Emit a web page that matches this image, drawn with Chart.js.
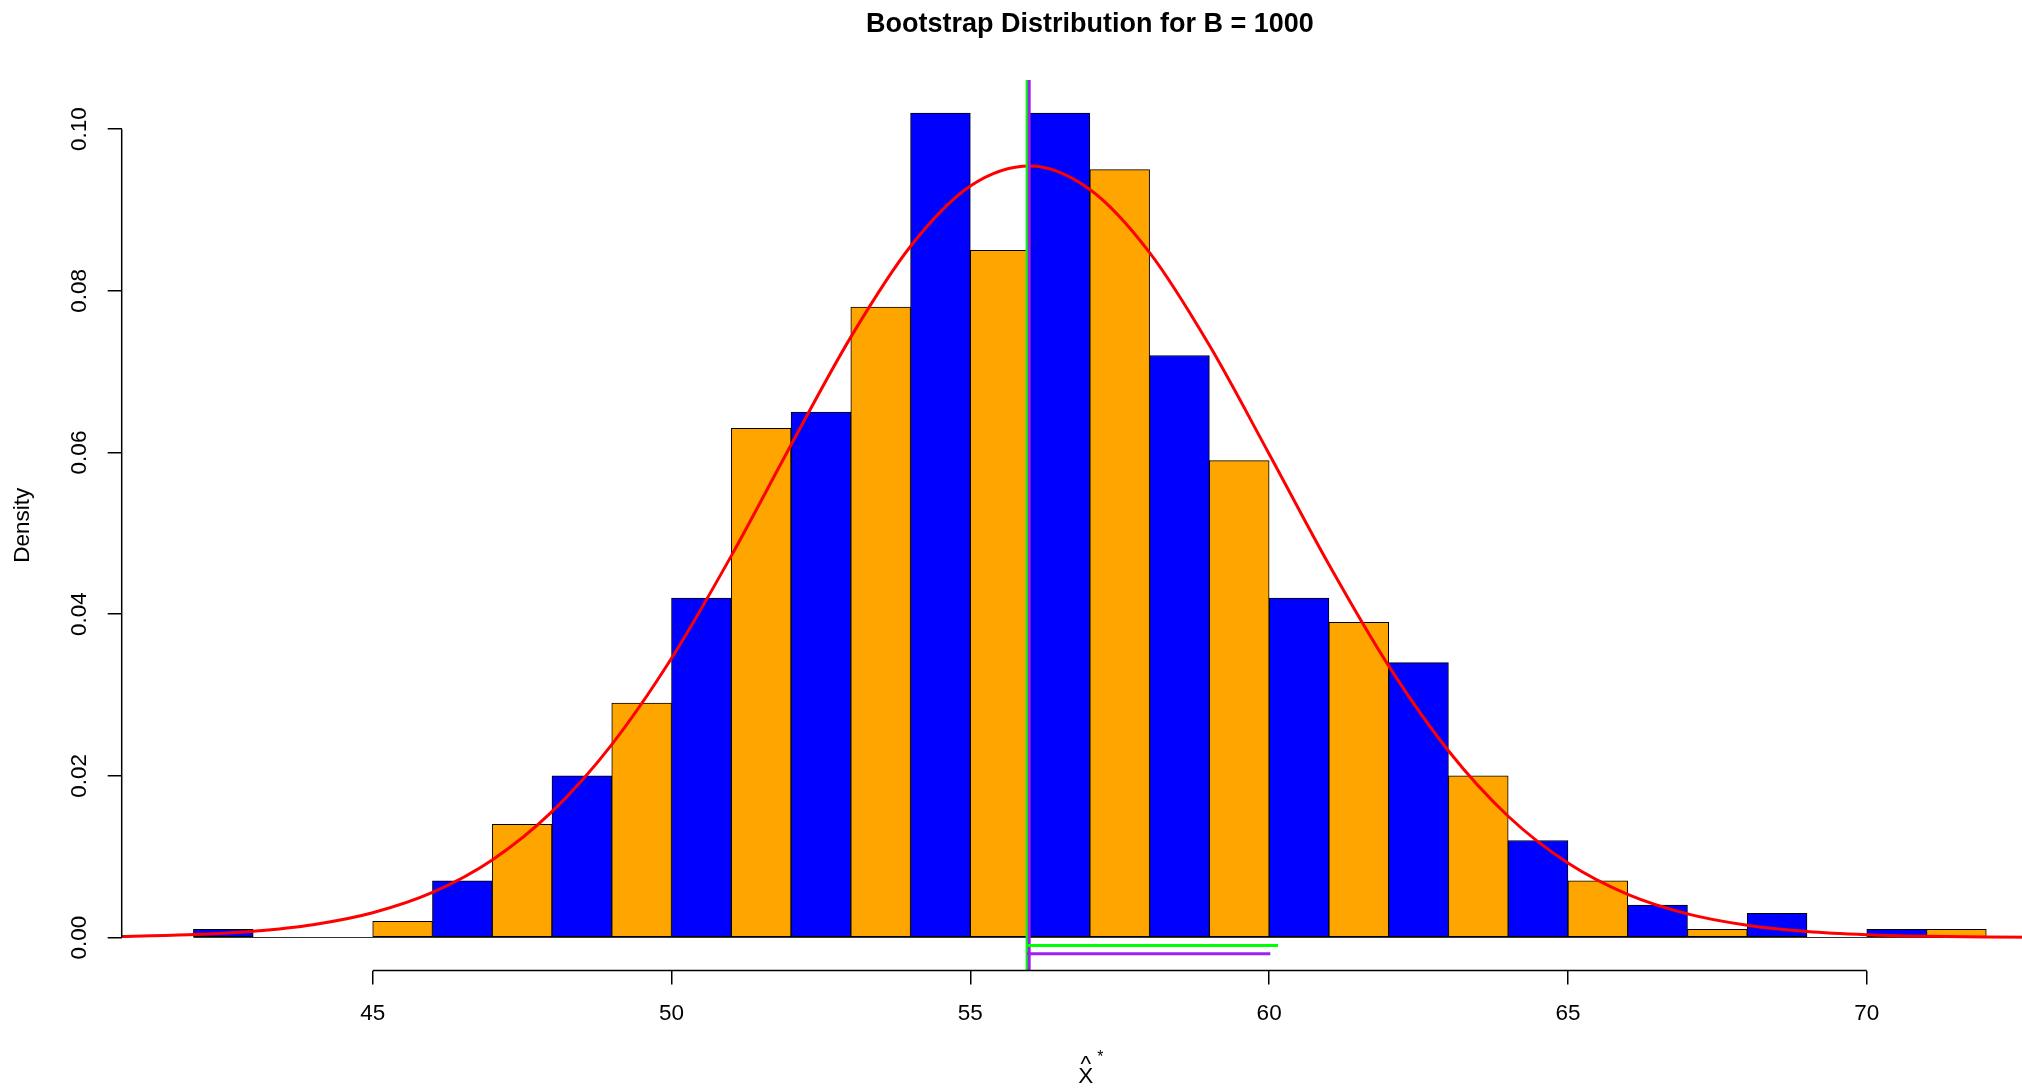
<!DOCTYPE html>
<html>
<head>
<meta charset="utf-8">
<title>Bootstrap Distribution</title>
<script src="https://cdn.jsdelivr.net/npm/chart.js@4.4.0/dist/chart.umd.min.js"></script>
<style>
  html, body { margin: 0; padding: 0; background: #fff; overflow: hidden; }
  #wrap { width: 2022px; height: 1088px; overflow: hidden; }
  /* the R plot region runs a little past the right edge of the picture */
  #boot-chart { display: block; }
</style>
</head>
<body>
<div id="wrap"><canvas id="boot-chart" width="2058" height="1088"></canvas></div>
<script>
'use strict';

// histogram bins (left edges, width 1) and their densities
const binStart = [42, 43, 44, 45, 46, 47, 48, 49, 50, 51, 52, 53, 54, 55, 56,
                  57, 58, 59, 60, 61, 62, 63, 64, 65, 66, 67, 68, 69, 70, 71];
const density = [0.001, 0, 0, 0.002, 0.007, 0.014, 0.020, 0.029, 0.042, 0.063,
                 0.065, 0.078, 0.102, 0.085, 0.102, 0.095, 0.072, 0.059, 0.042, 0.039,
                 0.034, 0.020, 0.012, 0.007, 0.004, 0.001, 0.003, 0, 0.001, 0.001];
const binColors = ['#0000FF', '#FFA500']; // alternating, like col = c("blue", "orange")

// red curve, values
const curveX = [40.8, 41, 42, 43, 44, 45, 46, 47, 48, 49, 50, 51, 52, 53, 54, 55, 56,
                57, 58, 59, 60, 61, 62, 63, 64, 65, 66, 67, 68, 69, 70, 71, 72, 73.2];
const curveY = [0.000133, 0.000158, 0.000361, 0.000781, 0.00159, 0.00307, 0.00558, 0.00960,
                0.01557, 0.02387, 0.03454, 0.04721, 0.06093, 0.07427, 0.08551, 0.09296, 0.09544,
                0.09253, 0.08472, 0.07326, 0.05982, 0.04614, 0.03360, 0.02310, 0.01500, 0.00921,
                0.00533, 0.00292, 0.00151, 0.000735, 0.000339, 0.000147, 0.0000605, 0.0000193];

// vertical reference lines and the two short segments under the axis
const meanLines = [55.95, 55.985];          // green, purple
const segStart = [55.95, 55.95];
const segEnd = [60.15, 60.02];
const segLevel = [-0.001, -0.002];

const xTicks = [45, 50, 55, 60, 65, 70];
const yTicks = [0, 0.02, 0.04, 0.06, 0.08, 0.10];
const xRange = [40.8, 73.2];
const yRange = [-0.00408, 0.10608];

const FONT = '"Liberation Sans", Arial, Helvetica, sans-serif';
Chart.defaults.font.family = FONT;
Chart.defaults.font.size = 22.5;
Chart.defaults.color = '#000';

// R draws its axis lines only between the first and last tick, plus the hat-X label
const rAxisPlugin = {
    id: 'rAxis',
    afterDraw(chart) {
        const {ctx, chartArea, scales} = chart;
        const x = scales.x, y = scales.y;
        ctx.save();
        ctx.strokeStyle = '#000';
        ctx.lineWidth = 1.5;
        ctx.beginPath();
        ctx.moveTo(x.getPixelForValue(xTicks[0]), chartArea.bottom);
        ctx.lineTo(x.getPixelForValue(xTicks[xTicks.length - 1]), chartArea.bottom);
        ctx.moveTo(chartArea.left, y.getPixelForValue(yTicks[0]));
        ctx.lineTo(chartArea.left, y.getPixelForValue(yTicks[yTicks.length - 1]));
        ctx.stroke();

        const cx = (chartArea.left + chartArea.right) / 2 - 4;
        const base = chartArea.bottom + 112;
        ctx.fillStyle = '#000';
        ctx.textAlign = 'center';
        ctx.textBaseline = 'alphabetic';
        ctx.font = '22.5px ' + FONT;
        ctx.fillText('X', cx, base);
        ctx.fillText('^', cx, base - 11.5);
        ctx.font = '15.75px ' + FONT;
        ctx.fillText('*', cx + 14.5, base - 20.5);
        ctx.restore();
    }
};

function lineSet(points, color, order) {
    return {
        type: 'line',
        data: points,
        borderColor: color,
        borderWidth: 3,
        pointRadius: 0,
        tension: 0,
        fill: false,
        order: order
    };
}

const bars = binStart.map((b, i) => ({x: b + 0.5, y: density[i]}));
const curve = curveX.map((v, i) => ({x: v, y: curveY[i]}));

const datasets = [
    {
        type: 'line',
        data: [{x: binStart[0], y: 0}, {x: binStart[binStart.length - 1] + 1, y: 0}],
        borderColor: '#333',
        borderWidth: 1.2,
        pointRadius: 0,
        order: 9
    },
    {
        type: 'bar',
        data: bars,
        backgroundColor: binStart.map((b, i) => binColors[i % 2]),
        borderColor: '#000',
        borderWidth: 1,
        borderSkipped: false,
        barPercentage: 1,
        categoryPercentage: 1,
        order: 8
    },
    Object.assign(lineSet(curve, '#FF0000', 5), {cubicInterpolationMode: 'monotone'}),
    lineSet([{x: meanLines[0], y: yRange[0]}, {x: meanLines[0], y: yRange[1]}], '#00FF00', 4),
    lineSet([{x: meanLines[1], y: yRange[0]}, {x: meanLines[1], y: yRange[1]}], '#A020F0', 3),
    lineSet([{x: segStart[0], y: segLevel[0]}, {x: segEnd[0], y: segLevel[0]}], '#00FF00', 2),
    lineSet([{x: segStart[1], y: segLevel[1]}, {x: segEnd[1], y: segLevel[1]}], '#A020F0', 1)
];

const ctx = document.getElementById('boot-chart').getContext('2d');
const bootChart = new Chart(ctx, {
    type: 'bar',
    data: {datasets: datasets},
    plugins: [rAxisPlugin],
    options: {
        responsive: false,
        devicePixelRatio: 1,
        animation: false,
        events: [],
        layout: {padding: 0},
        plugins: {
            legend: {display: false},
            tooltip: {enabled: false},
            title: {
                display: true,
                text: 'Bootstrap Distribution for B = 1000',
                fullSize: false,
                color: '#000',
                font: {size: 27, weight: 'bold', lineHeight: 1.2},
                padding: {top: 8.4, bottom: 39.2}
            }
        },
        scales: {
            x: {
                type: 'linear',
                min: xRange[0],
                max: xRange[1],
                offset: false,
                afterBuildTicks: s => { s.ticks = xTicks.map(v => ({value: v})); },
                afterFit: s => { s.height = 117.5; },
                border: {display: false},
                grid: {
                    offset: false,
                    drawOnChartArea: false,
                    drawTicks: true,
                    tickLength: 14,
                    color: '#000',
                    lineWidth: 1.5
                },
                ticks: {
                    autoSkip: false,
                    maxRotation: 0,
                    padding: 15.5,
                    color: '#000',
                    callback: v => String(v)
                }
            },
            y: {
                type: 'linear',
                min: yRange[0],
                max: yRange[1],
                afterBuildTicks: s => { s.ticks = yTicks.map(v => ({value: v})); },
                afterFit: s => { s.width = 121.7; },
                border: {display: false},
                grid: {
                    drawOnChartArea: false,
                    drawTicks: true,
                    tickLength: 14,
                    color: '#000',
                    lineWidth: 1.5
                },
                ticks: {
                    autoSkip: false,
                    minRotation: 90,
                    maxRotation: 90,
                    crossAlign: 'center',
                    padding: 6,
                    color: '#000',
                    callback: v => v.toFixed(2)
                },
                title: {
                    display: true,
                    text: 'Density',
                    color: '#000',
                    padding: {top: 9.5, bottom: 0}
                }
            }
        }
    }
});
</script>
</body>
</html>
